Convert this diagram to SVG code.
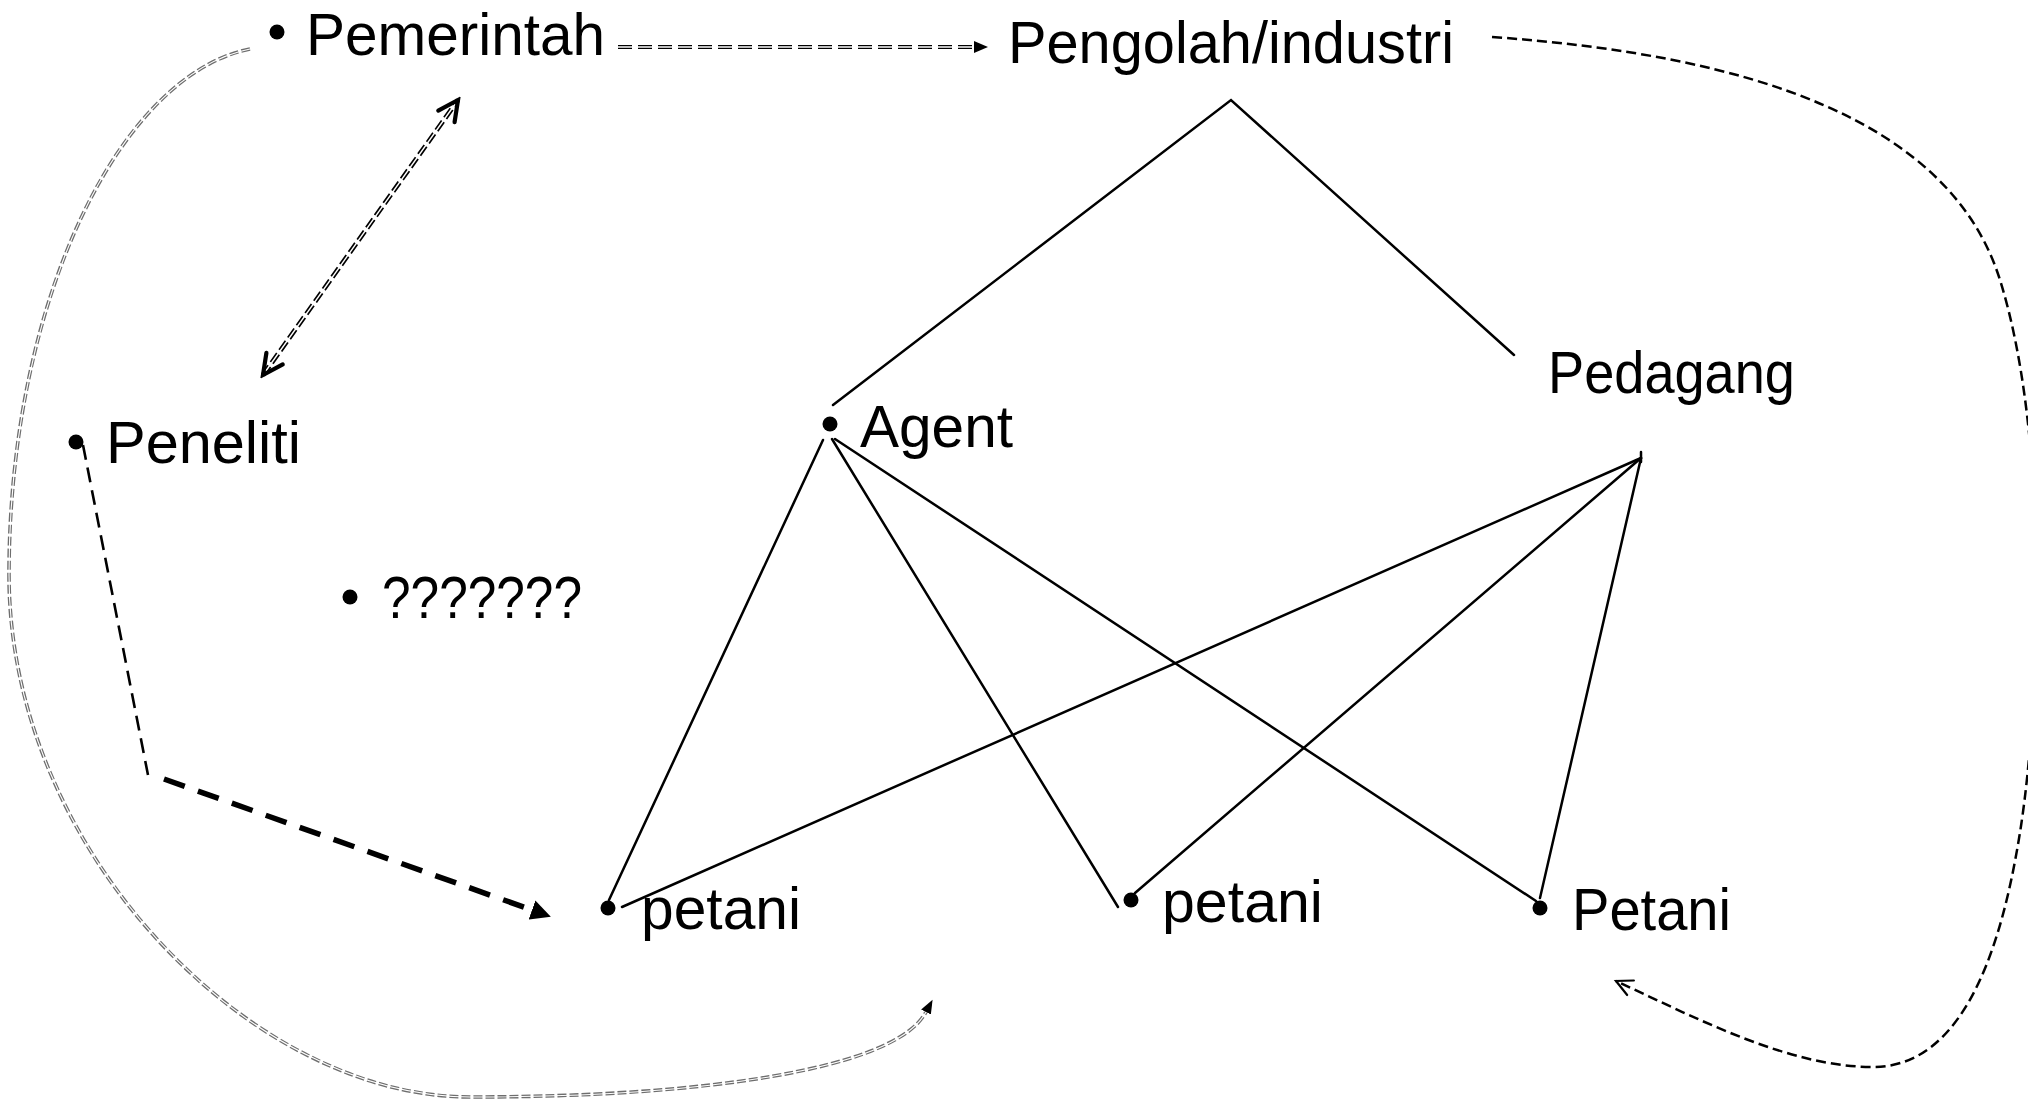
<svg xmlns="http://www.w3.org/2000/svg" width="2028" height="1101" viewBox="0 0 2028 1101">
<style>
  .lbl { font-family: "Liberation Sans", Arial, sans-serif; font-size: 60px; fill: #000; }
  .dot { fill: #000; }
  .solid { fill: none; stroke: #000; stroke-width: 2.5; stroke-linecap: round; }
  .dbl { fill: none; stroke: #000; }
  .white { fill: none; stroke: #fff; }
</style>
<defs>
  <marker id="triSmall" markerUnits="userSpaceOnUse" viewBox="0 -7 16 14" refX="0" refY="0" markerWidth="16" markerHeight="14" orient="auto">
    <path d="M0,-6 L14,0 L0,6 Z" fill="#000"/>
  </marker>
  <marker id="triGray" markerUnits="userSpaceOnUse" viewBox="0 -7 16 14" refX="0" refY="0" markerWidth="16" markerHeight="14" orient="auto">
    <path d="M0,-5.5 L14,0 L0,5.5 Z" fill="#000"/>
  </marker>
  <marker id="triBig" markerUnits="userSpaceOnUse" viewBox="0 -11 22 22" refX="0" refY="0" markerWidth="22" markerHeight="22" orient="auto">
    <path d="M0,-10 L20,0 L0,10 Z" fill="#000"/>
  </marker>
  <marker id="openBig" markerUnits="userSpaceOnUse" viewBox="-24 -13 28 26" refX="0" refY="0" markerWidth="28" markerHeight="26" orient="auto-start-reverse">
    <path d="M-20,-10 L0,0 L-20,10" fill="none" stroke="#000" stroke-width="4.2" stroke-linecap="round" stroke-linejoin="miter"/>
  </marker>
  <marker id="openSmall" markerUnits="userSpaceOnUse" viewBox="-20 -11 24 22" refX="0" refY="0" markerWidth="24" markerHeight="22" orient="auto">
    <path d="M-16,-8 L0,0 L-16,8" fill="none" stroke="#000" stroke-width="2.2" stroke-linecap="round"/>
  </marker>
</defs>
<rect x="0" y="0" width="2028" height="1101" fill="#fff"/>

<g id="connectors">
  <!-- Pengolah to Agent / Pedagang -->
  <path class="solid" d="M833,405 L1231,100 L1514,355"/>
  <!-- Agent to petani -->
  <path class="solid" d="M823,440 L609,900"/>
  <path class="solid" d="M832,439 L1118,907"/>
  <path class="solid" d="M835,439 L1536,901"/>
  <!-- Pedagang to petani -->
  <path class="solid" d="M1641,458 L622,907"/>
  <path class="solid" d="M1641,458 L1135,893"/>
  <path class="solid" d="M1641,458 L1540,898"/>
  <path class="solid" d="M1641,452 L1641,462" stroke-width="2"/>

  <!-- Pemerintah -> Pengolah (double dashed) -->
  <path class="dbl" d="M618,47 L974,47" stroke-width="4.2" stroke-dasharray="14 6"/>
  <path class="white" d="M618,47 L974,47" stroke-width="1.3" marker-end="url(#triSmall)"/>

  <!-- Pemerintah <-> Peneliti (double dashed, bidirectional) -->
  <path class="dbl" d="M263,375 L458,100" stroke-width="4.8" stroke-dasharray="11 4"/>
  <path class="white" d="M263,375 L458,100" stroke-width="1.4" marker-start="url(#openBig)" marker-end="url(#openBig)"/>

  <!-- Peneliti -> petani (dashed) -->
  <path d="M83,445 L148,775" fill="none" stroke="#000" stroke-width="2.6" stroke-dasharray="15 8"/>
  <path d="M164,779 L532,910" fill="none" stroke="#000" stroke-width="5.5" stroke-dasharray="22 14" marker-end="url(#triBig)"/>

  <!-- Pemerintah -> petani (gray double dashed curve) -->
  <path d="M250,49 C120,75 9,300 9,575 C9,850 250,1097 470,1097 C700,1097 895,1070 926,1012" fill="none" stroke="#6e6e6e" stroke-width="3.6" stroke-dasharray="9 3"/>
  <path d="M250,49 C120,75 9,300 9,575 C9,850 250,1097 470,1097 C700,1097 895,1070 926,1012" fill="none" stroke="#fff" stroke-width="1.1" marker-end="url(#triGray)"/>

  <!-- Pengolah -> Petani (dashed curve, partly off the right edge) -->
  <path d="M1492,37 C1750,55 1950,120 2000,280 C2050,440 2040,700 2021,826 C2005,930 1970,1067 1873,1067 C1790,1067 1700,1020 1616,981" fill="none" stroke="#000" stroke-width="2.5" stroke-dasharray="10 5" marker-end="url(#openSmall)"/>
</g>

<g id="n-pemerintah">
  <circle class="dot" cx="277" cy="32" r="7.5"/>
  <text class="lbl" x="306" y="55" textLength="299" lengthAdjust="spacingAndGlyphs">Pemerintah</text>
</g>
<g id="n-pengolah">
  <text class="lbl" x="1008" y="63" textLength="446" lengthAdjust="spacingAndGlyphs">Pengolah/industri</text>
</g>
<g id="n-pedagang">
  <text class="lbl" x="1548" y="393" textLength="247" lengthAdjust="spacingAndGlyphs">Pedagang</text>
</g>
<g id="n-agent">
  <circle class="dot" cx="830" cy="424" r="7.5"/>
  <text class="lbl" x="860" y="447" textLength="153" lengthAdjust="spacingAndGlyphs">Agent</text>
</g>
<g id="n-peneliti">
  <circle class="dot" cx="76" cy="442" r="7.5"/>
  <text class="lbl" x="106" y="463" textLength="195" lengthAdjust="spacingAndGlyphs">Peneliti</text>
</g>
<g id="n-unknown">
  <circle class="dot" cx="350" cy="597" r="7.5"/>
  <text class="lbl" x="382" y="618" textLength="200" lengthAdjust="spacingAndGlyphs">???????</text>
</g>
<g id="n-petani1">
  <circle class="dot" cx="608" cy="908" r="7.5"/>
  <text class="lbl" x="641" y="929" textLength="160" lengthAdjust="spacingAndGlyphs">petani</text>
</g>
<g id="n-petani2">
  <circle class="dot" cx="1131" cy="900" r="7.5"/>
  <text class="lbl" x="1162" y="922" textLength="161" lengthAdjust="spacingAndGlyphs">petani</text>
</g>
<g id="n-petani3">
  <circle class="dot" cx="1540" cy="908" r="7.5"/>
  <text class="lbl" x="1572" y="930" textLength="159" lengthAdjust="spacingAndGlyphs">Petani</text>
</g>
</svg>
